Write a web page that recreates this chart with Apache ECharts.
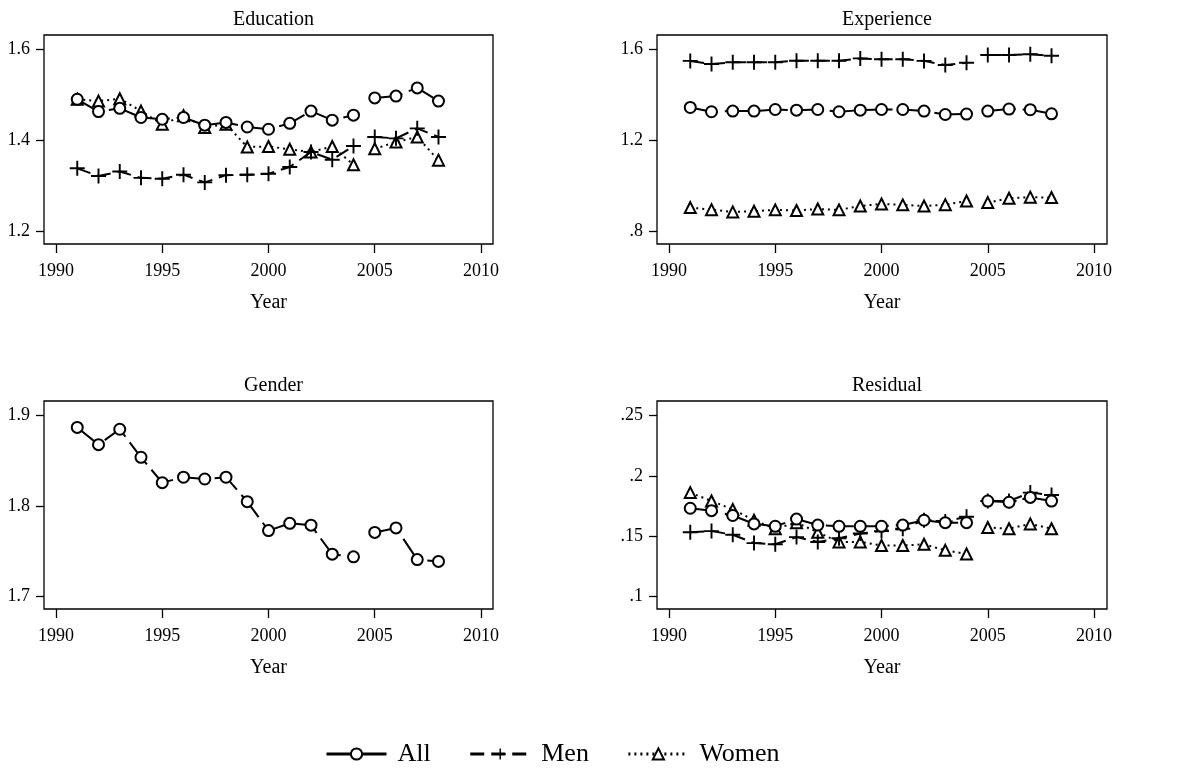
<!DOCTYPE html>
<html>
<head>
<meta charset="utf-8">
<script src="https://cdn.jsdelivr.net/npm/echarts@6/dist/echarts.min.js"></script>
<style>
html,body{margin:0;padding:0;background:#fff;}
#c{width:1200px;height:771px;}
</style>
</head>
<body>
<div id="c"></div>
<script>
// ---------- data ----------
const years = [1991,1992,1993,1994,1995,1996,1997,1998,1999,2000,2001,2002,2003,2004,2005,2006,2007,2008];
const breakAfter = 2004; // lines are interrupted between 2004 and 2005
const seriesNames = ['All','Men','Women'];
const panelTitles = ['Education','Experience','Gender','Residual'];
const xTicks = [1990,1995,2000,2005,2010];

const eduAll   = [1.490,1.463,1.470,1.450,1.446,1.450,1.433,1.439,1.429,1.424,1.437,1.464,1.444,1.455,1.493,1.497,1.515,1.486];
const eduMen   = [1.338,1.321,1.331,1.317,1.315,1.324,1.307,1.323,1.324,1.326,1.341,1.374,1.357,1.387,1.407,1.404,1.426,1.407];
const eduWomen = [1.490,1.486,1.491,1.464,1.435,1.454,1.428,1.435,1.385,1.386,1.380,1.374,1.386,1.346,1.381,1.396,1.407,1.356];
const eduTicks = [1.2,1.4,1.6];

const expAll   = [1.344,1.325,1.328,1.328,1.335,1.332,1.335,1.325,1.332,1.335,1.335,1.328,1.313,1.315,1.328,1.337,1.334,1.316];
const expMen   = [1.549,1.535,1.543,1.543,1.543,1.550,1.550,1.550,1.560,1.556,1.556,1.549,1.531,1.541,1.575,1.575,1.578,1.572];
const expWomen = [0.903,0.894,0.884,0.887,0.893,0.890,0.897,0.893,0.910,0.919,0.915,0.910,0.916,0.932,0.925,0.944,0.949,0.947];
const expTicks = [0.8,1.2,1.6];

const genAll   = [1.887,1.868,1.885,1.854,1.826,1.832,1.830,1.832,1.805,1.773,1.781,1.779,1.747,1.744,1.771,1.776,1.741,1.739];
const genTicks = [1.7,1.8,1.9];

const resAll   = [0.173,0.171,0.167,0.160,0.158,0.164,0.159,0.158,0.158,0.158,0.159,0.163,0.161,0.161,0.179,0.178,0.182,0.179];
const resMen   = [0.153,0.154,0.151,0.144,0.143,0.149,0.145,0.148,0.152,0.154,0.156,0.163,0.162,0.166,0.179,0.179,0.186,0.184];
const resWomen = [0.186,0.179,0.172,0.163,0.156,0.161,0.153,0.145,0.145,0.142,0.142,0.143,0.138,0.135,0.157,0.156,0.160,0.156];
const resTicks = [0.1,0.15,0.2,0.25];

// ---------- layout / styles ----------
const FONT = "'Liberation Serif','Times New Roman',serif";
const grids = [
  {left:44,  top:35,  width:449, height:209},
  {left:657, top:35,  width:450, height:209},
  {left:44,  top:401, width:449, height:208},
  {left:657, top:401, width:450, height:208}
];
const xRange = [[1989.435,2010.565],[1989.435,2010.61],[1989.435,2010.565],[1989.435,2010.61]];
const yRange = [[1.1714,1.6315],[0.7427,1.663],[1.6864,1.9162],[0.0892,0.2622]];
const yTickSets = [eduTicks, expTicks, genTicks, resTicks];

const plusPath = 'path://M-0.9,-7H0.9V-0.9H7V0.9H0.9V7H-0.9V0.9H-7V-0.9H-0.9Z';
const styleOf = {
  All:   {symbol:'emptyCircle',   symbolSize:11, lineType:[28,7], border:1.8},
  Men:   {symbol:plusPath,        symbolSize:15, lineType:[14,7], border:0},
  Women: {symbol:'emptyTriangle', symbolSize:11, lineType:[2,4],  border:1.8}
};

function toData(vals){
  const out = [];
  years.forEach((y,i)=>{
    out.push([y, vals[i]]);
    if (y === breakAfter) out.push([y + 0.5, '-']);
  });
  return out;
}
function fmt(v){
  let s = String(+v.toFixed(3));
  return s.replace(/^0\./,'.');
}

const panelSeries = [
  {All:eduAll, Men:eduMen, Women:eduWomen},
  {All:expAll, Men:expMen, Women:expWomen},
  {All:genAll},
  {All:resAll, Men:resMen, Women:resWomen}
];

const series = [];
panelSeries.forEach((p,gi)=>{
  seriesNames.forEach(name=>{
    if (!p[name]) return;
    const st = styleOf[name];
    series.push({
      name: name,
      type: 'line',
      xAxisIndex: gi, yAxisIndex: gi,
      data: toData(p[name]),
      symbol: st.symbol,
      symbolSize: st.symbolSize,
      showAllSymbol: true,
      connectNulls: false,
      animation: false,
      silent: true,
      lineStyle: {color:'#000', width:2, type: st.lineType},
      itemStyle: {color:'#000', borderColor:'#000', borderWidth:st.border},
      z: name==='All' ? 3 : (name==='Men' ? 2 : 1)
    });
  });
});

const option = {
  backgroundColor:'#fff',
  animation:false,
  title: grids.map((g,i)=>({
    text: panelTitles[i],
    left: g.left + g.width/2,
    top: g.top - 30,
    textAlign:'center',
    textStyle:{fontFamily:FONT, fontSize:20, fontWeight:'normal', color:'#000'}
  })),
  grid: grids.map(g=>Object.assign({show:true, borderColor:'#000', borderWidth:1.3, backgroundColor:'#fff', containLabel:false}, g)),
  xAxis: grids.map((g,i)=>({
    type:'value', gridIndex:i,
    min:xRange[i][0], max:xRange[i][1],
    name:'Year', nameLocation:'middle', nameGap:49,
    nameTextStyle:{fontFamily:FONT, fontSize:20, color:'#000'},
    axisLine:{show:false},
    axisTick:{show:true, inside:false, length:9, customValues:xTicks, lineStyle:{color:'#000', width:1.3}},
    axisLabel:{show:true, customValues:xTicks, margin:18, fontFamily:FONT, fontSize:18, color:'#000', formatter:v=>String(v)},
    splitLine:{show:false}
  })),
  yAxis: grids.map((g,i)=>({
    type:'value', gridIndex:i,
    min:yRange[i][0], max:yRange[i][1],
    axisLine:{show:false},
    axisTick:{show:true, inside:false, length:8, customValues:yTickSets[i], lineStyle:{color:'#000', width:1.3}},
    axisLabel:{show:true, customValues:yTickSets[i], margin:14, fontFamily:FONT, fontSize:18, color:'#000', formatter:v=>fmt(v)},
    splitLine:{show:false}
  })),
  legend:{
    data: seriesNames,
    left:320, top:736,
    itemWidth:60, itemHeight:14, itemGap:38,
    lineStyle:{width:3},
    textStyle:{fontFamily:FONT, fontSize:26, color:'#000', padding:[0,0,0,6]},
    selectedMode:false
  },
  series: series
};

const chart = echarts.init(document.getElementById('c'), null, {renderer:'canvas'});
chart.setOption(option);
</script>
</body>
</html>
